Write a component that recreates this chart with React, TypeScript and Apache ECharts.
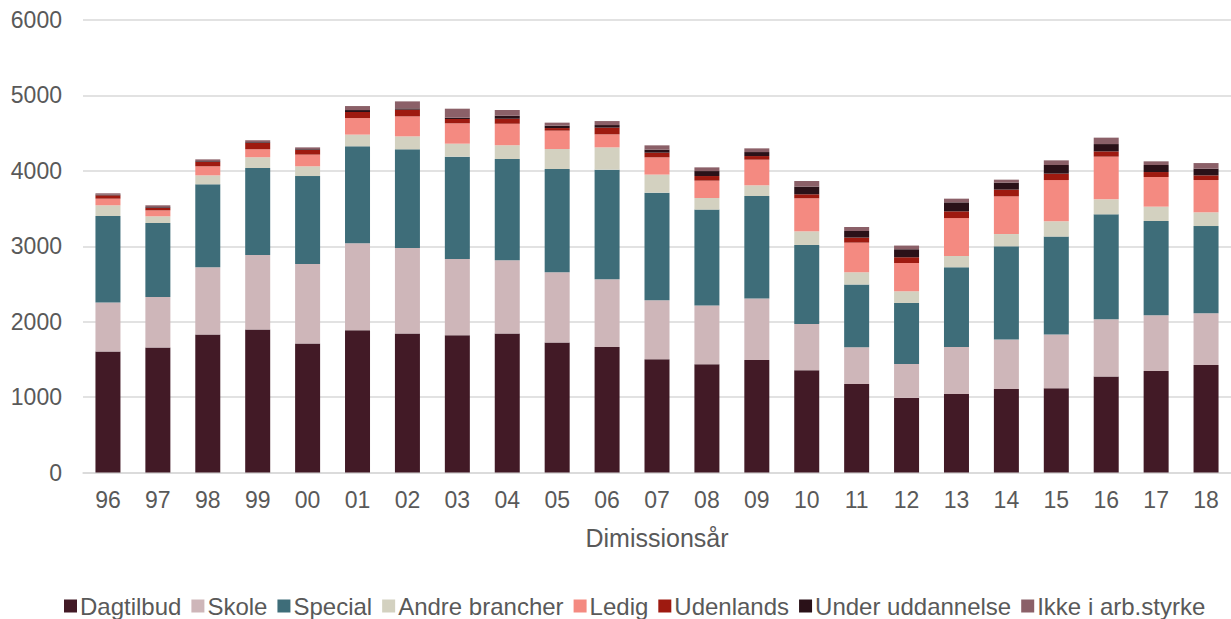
import React, { useEffect, useRef } from "react";
import * as echarts from "echarts";

const categories = ["96","97","98","99","00","01","02","03","04","05","06","07","08","09","10","11","12","13","14","15","16","17","18"];
const yTicks = [0, 1000, 2000, 3000, 4000, 5000, 6000];

const dagtilbud = [1604,1657,1829,1895,1710,1886,1842,1820,1842,1723,1665,1502,1435,1492,1356,1174,989,1042,1108,1117,1272,1347,1426];
const skole = [649,670,892,989,1055,1153,1135,1011,972,932,897,782,778,814,614,487,451,623,655,712,760,738,685];
const special = [1148,981,1100,1153,1166,1286,1308,1357,1343,1369,1454,1427,1273,1360,1047,831,808,1056,1236,1299,1391,1250,1157];
const andre = [142,89,119,142,129,155,172,172,181,265,295,239,154,142,181,163,155,150,163,203,199,190,182];
const ledig = [88,79,120,106,155,220,265,270,287,244,173,229,230,340,438,393,375,503,500,547,566,393,428];
const udenlands = [44,31,57,84,61,80,89,57,67,34,89,62,61,48,53,67,76,89,89,85,70,66,62];
const underUdd = [10,10,10,10,10,26,17,18,40,32,34,40,66,53,102,87,106,119,93,114,97,93,89];
const ikke = [17,26,25,25,25,53,93,119,74,40,53,57,49,49,74,53,49,49,39,62,85,49,74];

const seriesDefs = [
  { name: "Dagtilbud", data: dagtilbud, color: "#421A26" },
  { name: "Skole", data: skole, color: "#CEB6B9" },
  { name: "Special", data: special, color: "#3E6D79" },
  { name: "Andre brancher", data: andre, color: "#D3D1C0" },
  { name: "Ledig", data: ledig, color: "#F48A81" },
  { name: "Udenlands", data: udenlands, color: "#9E1A10" },
  { name: "Under uddannelse", data: underUdd, color: "#2A1118" },
  { name: "Ikke i arb.styrke", data: ikke, color: "#8B6068" },
];

const FONT = "'Liberation Sans', Arial, sans-serif";
const TEXT = "#595959";

export default function App() {
  const ref = useRef<HTMLDivElement>(null);
  useEffect(() => {
    if (!ref.current) return;
    const chart = echarts.init(ref.current, null, { renderer: "svg" });
    chart.setOption({
      animation: false,
      backgroundColor: "#ffffff",
      textStyle: { fontFamily: FONT },
      grid: { left: 83, top: 20, width: 1156, bottom: 146.5, containLabel: false },
      legend: {
        left: 64,
        top: 594,
        padding: 0,
        itemWidth: 13,
        itemHeight: 13,
        itemGap: 10,
        icon: "rect",
        textStyle: { fontFamily: FONT, fontSize: 24, color: TEXT, padding: [0, 0, 0, -2] },
        data: seriesDefs.map((s) => s.name),
      },
      xAxis: {
        type: "category",
        data: categories,
        name: "Dimissionsår",
        nameLocation: "middle",
        nameGap: 53,
        nameTextStyle: { fontFamily: FONT, fontSize: 25, color: TEXT },
        axisLine: { lineStyle: { color: "#D9D9D9", width: 1.5 } },
        axisTick: { show: false },
        axisLabel: { fontFamily: FONT, fontSize: 23, color: TEXT, margin: 16 },
      },
      yAxis: {
        type: "value",
        min: yTicks[0],
        max: yTicks[yTicks.length - 1],
        interval: 1000,
        axisLine: { show: false },
        axisTick: { show: false },
        axisLabel: { fontFamily: FONT, fontSize: 23, color: TEXT, margin: 21, formatter: (v: number) => String(v) },
        splitLine: { lineStyle: { color: "#D9D9D9", width: 1.5 } },
      },
      series: seriesDefs.map((s) => ({
        name: s.name,
        type: "bar",
        stack: "total",
        barWidth: 25,
        data: s.data,
        itemStyle: { color: s.color },
      })),
    });
    return () => chart.dispose();
  }, []);
  return <div ref={ref} style={{ width: 1231, height: 619, position: "absolute", left: 0, top: 0 }} />;
}
